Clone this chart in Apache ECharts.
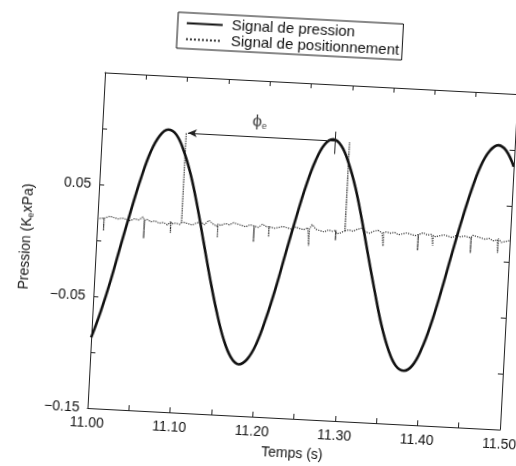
<!DOCTYPE html>
<html>
<head>
<meta charset="utf-8">
<script src="https://cdn.jsdelivr.net/npm/echarts@6/dist/echarts.min.js"></script>
<style>
html,body{margin:0;padding:0;background:#fff;overflow:hidden;width:516px;height:466px;}
#chart{width:560px;height:466px;transform:rotate(3deg);transform-origin:302px 251px;}
</style>
</head>
<body>
<div id="chart"></div>
<script>
// Pressure signal, sampled every 0.01 s from 11.00 to 11.50
const pressureStart = 11.00;
const pressureStep = 0.01;
const pressure = [-0.087,-0.063,-0.035,-0.003,0.028,0.057,0.081,0.096,0.102,0.098,
  0.084,0.063,0.035,0.003,-0.029,-0.058,-0.082,-0.098,-0.104,-0.099,
  -0.085,-0.062,-0.034,-0.002,0.029,0.058,0.081,0.096,0.101,
  0.096,0.081,0.059,0.030,-0.002,-0.033,-0.062,-0.084,-0.098,-0.102,
  -0.097,-0.082,-0.059,-0.030,0.002,0.033,0.061,0.084,0.098,0.1035,0.099,0.085];

// Positioning signal baseline, sampled every 0.005 s
const posStart = 11.00;
const posStep = 0.005;
const posBase = [0.019,0.020,0.021,0.022,0.021,0.020,0.021,0.020,0.019,0.021,
  0.020,0.023,0.021,0.019,0.020,0.018,0.019,0.017,0.018,0.019,
  0.018,0.020,0.019,0.018,0.020,0.021,0.019,0.023,0.020,0.018,
  0.019,0.021,0.020,0.022,0.021,0.020,0.019,0.021,0.020,0.019,
  0.022,0.020,0.021,0.019,0.020,0.021,0.020,0.019,0.021,0.020,
  0.019,0.021,0.024,0.020,0.019,0.018,0.020,0.019,0.017,0.018,
  0.019,0.021,0.020,0.022,0.023,0.020,0.019,0.021,0.022,0.020,
  0.021,0.020,0.021,0.019,0.020,0.021,0.020,0.019,0.020,0.022,
  0.020,0.021,0.019,0.020,0.021,0.020,0.019,0.021,0.020,0.021,
  0.020,0.022,0.021,0.020,0.019,0.020,0.018,0.019,0.017,0.018,
  0.019];
const spikeLevel = 0.020;
const spikeTimes = [11.008,11.057,11.089,11.102,11.146,11.190,11.208,11.257,11.289,11.300,11.347,11.389,11.407,11.453,11.486];
const spikeTips  = [0.009,0.004,0.010,0.100,0.008,0.006,0.011,0.005,0.011,0.099,0.008,0.006,0.011,0.006,0.0075];

// Phase annotation
const arrowStart = [11.104, 0.100];
const arrowEnd = [11.282, 0.100];
const markTick = [[11.282, 0.088],[11.282, 0.108]];
const phaseLabelPos = [11.19, 0.113];

const xTickLabels = ['11.00','11.10','11.20','11.30','11.40','11.50'];
const yTickLabels = ['\u22120.15','\u22120.05','0.05'];

const pData = pressure.map((v,i)=>[+(pressureStart + i*pressureStep).toFixed(3), v]);
const posData = posBase.map((v,i)=>[+(posStart + i*posStep).toFixed(4), v]);
spikeTimes.forEach((t,k)=>{
  posData.push([t-0.0001, spikeLevel],[t, spikeTips[k]],[t+0.0001, spikeLevel]);
});
posData.sort((a,b)=>a[0]-b[0]);

const FONT = 'Liberation Sans, Arial, sans-serif';
const AX = '#222';

function xFmt(val){
  const s = val.toFixed(2);
  return xTickLabels.indexOf(s) >= 0 ? s : '';
}
function yFmt(val){
  const s = (val < 0 ? '\u2212' : '') + Math.abs(val).toFixed(2);
  return yTickLabels.indexOf(s) >= 0 ? s : '';
}

const baseX = {
  type:'value', min:11.0, max:11.5, interval:0.05,
  axisLine:{show:true,onZero:false,lineStyle:{color:AX,width:1}},
  axisTick:{show:true,inside:true,length:5,lineStyle:{color:AX}},
  splitLine:{show:false}
};
const baseY = {
  type:'value', min:-0.15, max:0.15, interval:0.05,
  axisLine:{show:true,onZero:false,lineStyle:{color:AX,width:1}},
  axisTick:{show:true,inside:true,length:5,lineStyle:{color:AX}},
  splitLine:{show:false}
};

const chart = echarts.init(document.getElementById('chart'));
chart.setOption({
  backgroundColor:'transparent',
  animation:false,
  textStyle:{fontFamily:FONT},
  legend:{
    show:true, orient:'vertical', left:166, top:19,
    data:['Signal de pression','Signal de positionnement'],
    itemWidth:36, itemHeight:15, itemGap:1,
    padding:[3,3,2,8],
    borderColor:'#111', borderWidth:1, borderRadius:0,
    backgroundColor:'#fff',
    itemStyle:{color:'rgba(0,0,0,0)', borderColor:'rgba(0,0,0,0)', borderWidth:0, opacity:0},
    textStyle:{fontFamily:FONT,fontSize:15,color:'#111',padding:[0,0,0,4]}
  },
  grid:{left:96, top:83, width:413, bottom:47, containLabel:false, outerBoundsMode:'none'},
  xAxis:[
    Object.assign({}, baseX, {
      position:'bottom',
      name:'Temps (s)', nameLocation:'middle', nameGap:28,
      nameTextStyle:{fontFamily:FONT,fontSize:14,color:'#111'},
      axisLabel:{show:true,margin:8,fontFamily:FONT,fontSize:14,color:'#111',formatter:xFmt,showMinLabel:true,showMaxLabel:true}
    }),
    Object.assign({}, baseX, {position:'top', axisLabel:{show:false}})
  ],
  yAxis:[
    Object.assign({}, baseY, {
      position:'left',
      name:'Pression (K{sub|e}xPa)', nameLocation:'middle', nameGap:62, nameRotate:90,
      nameTextStyle:{fontFamily:FONT,fontSize:14,color:'#111',
        rich:{sub:{fontFamily:FONT,fontSize:9,color:'#111',padding:[7,0,0,0]}}},
      axisLabel:{show:true,margin:8,fontFamily:FONT,fontSize:14,color:'#111',formatter:yFmt,showMinLabel:true,showMaxLabel:true}
    }),
    Object.assign({}, baseY, {position:'right', axisLabel:{show:false}})
  ],
  series:[
    {
      name:'Signal de pression', type:'line', xAxisIndex:0, yAxisIndex:0,
      data:pData, showSymbol:false, symbol:'none', smooth:0.4,
      lineStyle:{color:'#111', width:2.6, type:'solid'},
      itemStyle:{color:'#111'}, z:3
    },
    {
      name:'Signal de positionnement', type:'line', xAxisIndex:0, yAxisIndex:0,
      data:posData, showSymbol:false, symbol:'none',
      lineStyle:{color:'#333', width:1.2, type:'dotted'},
      itemStyle:{color:'#333'}, z:2
    },
    {
      name:'phase', type:'scatter', xAxisIndex:0, yAxisIndex:0,
      data:[phaseLabelPos], symbolSize:0, silent:true,
      label:{show:true, position:'inside', formatter:'{a|\u03D5}{b|e}',
        rich:{a:{fontFamily:FONT,fontSize:17,color:'#111'},
              b:{fontFamily:FONT,fontSize:9,color:'#111',padding:[8,0,0,0]}}},
      markLine:{
        silent:true, animation:false,
        symbol:['arrow','none'], symbolSize:[6,9],
        label:{show:false},
        lineStyle:{color:'#222', width:1, type:'solid'},
        data:[
          [{coord:arrowStart},{coord:arrowEnd}],
          [{coord:markTick[0], symbol:'none'},{coord:markTick[1], symbol:'none'}]
        ]
      }
    }
  ]
});
</script>
</body>
</html>
